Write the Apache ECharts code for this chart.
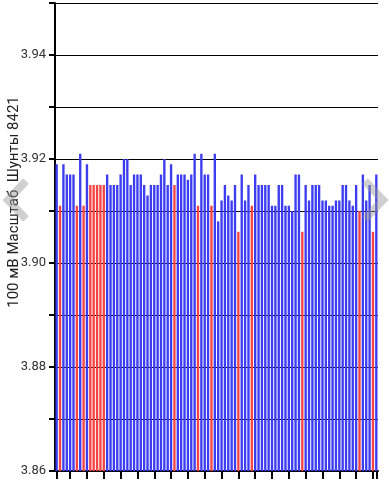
<!DOCTYPE html>
<html>
<head>
<meta charset="utf-8">
<script src="https://cdn.jsdelivr.net/npm/echarts@6/dist/echarts.min.js"></script>
<style>
html,body{margin:0;padding:0;background:#fff;}
#c{width:389px;height:480px;}
</style>
</head>
<body>
<div id="c"></div>
<script>
// Readings (V), one per sample
const readings = [
  3.919, 3.911, 3.919, 3.917, 3.917, 3.917, 3.911, 3.921, 3.911, 3.919,
  3.915, 3.915, 3.915, 3.915, 3.915, 3.917, 3.915, 3.915, 3.915, 3.917,
  3.920, 3.920, 3.915, 3.917, 3.917, 3.917, 3.915, 3.913, 3.915, 3.915,
  3.915, 3.917, 3.920, 3.915, 3.919, 3.915, 3.917, 3.917, 3.917, 3.916,
  3.917, 3.921, 3.911, 3.921, 3.917, 3.917, 3.911, 3.921, 3.908, 3.912,
  3.915, 3.913, 3.912, 3.915, 3.906, 3.917, 3.912, 3.915, 3.911, 3.917,
  3.915, 3.915, 3.915, 3.915, 3.911, 3.911, 3.915, 3.915, 3.911, 3.911,
  3.910, 3.917, 3.917, 3.906, 3.915, 3.912, 3.915, 3.915, 3.915, 3.912,
  3.912, 3.911, 3.911, 3.912, 3.912, 3.915, 3.915, 3.912, 3.911, 3.915,
  3.910, 3.917, 3.912, 3.915, 3.906, 3.917
];
// 1 = red (flagged) bar, 0 = blue
const flagged = [
  0,1,0,0,0,0,1,0,1,0,
  1,1,1,1,1,0,0,0,0,0,
  0,0,0,0,0,0,0,0,0,0,
  0,0,0,0,0,1,0,0,0,0,
  0,0,1,0,0,0,1,0,0,0,
  0,0,0,0,1,0,0,0,1,0,
  0,0,0,0,0,0,0,0,0,0,
  0,0,0,1,0,0,0,0,0,0,
  0,0,0,0,0,0,0,0,0,0,
  1,0,0,0,1,0
];
const categories = readings.map((_, i) => String(i + 1));
const yTickLabels = ['3.86', '3.88', '3.90', '3.92', '3.94'];
const yName = '100 мВ Масштаб  Шунты 8421';

const BLUE = '#3c3cf0';
const RED = '#f44444';

const chart = echarts.init(document.getElementById('c'), null, {renderer: 'canvas'});
const n = readings.length;
chart.setOption({
  animation: false,
  backgroundColor: '#fff',
  grid: {left: 55, right: 11, top: 3, bottom: 9, containLabel: false},
  xAxis: {
    type: 'category',
    data: categories,
    boundaryGap: true,
    axisLine: {show: true, lineStyle: {color: '#000', width: 2}},
    axisTick: {
      show: true, alignWithLabel: true, inside: false, length: 8,
      lineStyle: {color: '#000', width: 2},
      interval: (idx) => idx === 0 || idx % 5 === 4 || idx === n - 1
    },
    axisLabel: {show: false},
    splitLine: {show: false}
  },
  yAxis: {
    type: 'value',
    min: 3.86, max: 3.95, interval: 0.01,
    axisLine: {show: true, lineStyle: {color: '#000', width: 2}},
    axisTick: {show: true, length: 6, lineStyle: {color: '#000', width: 2}},
    axisLabel: {
      color: '#333', fontSize: 13, fontFamily: 'Roboto, Arial, sans-serif', margin: 9,
      formatter: (v) => {
        const s = v.toFixed(2);
        return yTickLabels.indexOf(s) >= 0 ? s : '';
      }
    },
    splitLine: {show: true, lineStyle: {color: '#000', width: 1}}
  },
  series: [{
    type: 'bar',
    barCategoryGap: '30%',
    data: readings.map((v, i) => ({value: v, itemStyle: {color: flagged[i] ? RED : BLUE}}))
  }],
  graphic: [
    {type: 'text', x: 14, y: 202, rotation: Math.PI / 2,
      style: {text: yName, fill: '#222', font: '15px Roboto, Arial, sans-serif', align: 'center', verticalAlign: 'middle'}},
    {type: 'polyline', z: 100, shape: {points: [[26, 181], [8, 200], [26, 219]]},
      style: {stroke: 'rgba(150,150,150,0.45)', lineWidth: 8, fill: null}},
    {type: 'polyline', z: 100, shape: {points: [[365, 181], [383, 200], [365, 219]]},
      style: {stroke: 'rgba(150,150,150,0.45)', lineWidth: 8, fill: null}}
  ]
});
</script>
</body>
</html>
